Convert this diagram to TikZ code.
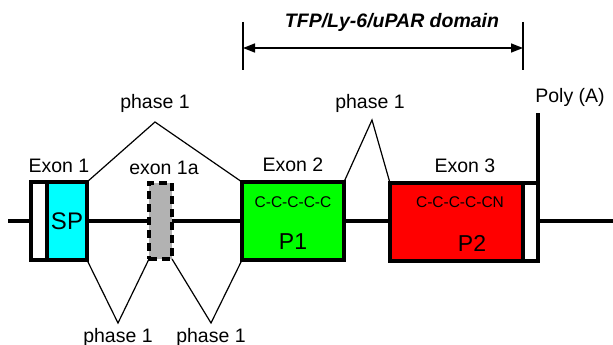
\documentclass[tikz,border=0pt]{standalone}
\usepackage{fontspec}
\setmainfont{Liberation Sans}
\usetikzlibrary{arrows.meta}
\definecolor{spcyan}{RGB}{0,255,255}
\definecolor{pgreen}{RGB}{0,255,0}
\definecolor{pred}{RGB}{255,0,0}
\definecolor{exgray}{RGB}{178,178,178}

\begin{document}
\begin{tikzpicture}[x=1pt,y=-1pt,
    exon/.style={draw,line width=3.5pt,inner sep=0pt,outer sep=0pt,anchor=north west,minimum height=78pt},
    lbl/.style={font=\fontsize{19.5}{22}\selectfont,inner sep=0pt},
    motif/.style={font=\fontsize{15.5}{18}\selectfont,inner sep=0pt},
    splice/.style={line width=1.2pt,line join=miter}]
  \useasboundingbox (0,0) rectangle (613,345);
  % gene backbone
  \coordinate (bl) at (8,221);
  \coordinate (br) at (613,221);
  \draw[line width=4pt] (bl) -- (br);
  % exons
  \node[exon,fill=white,minimum width=16pt] (utr5) at (31,182) {};
  \node[exon,fill=spcyan,minimum width=40pt] (sp) at (47,182) {};
  \node[lbl,font=\fontsize{24}{26}\selectfont] at (sp.center) {SP};
  \node[exon,fill=exgray,dash pattern=on 8pt off 5pt,minimum width=23pt,minimum height=76pt] (ex1a) at (149,183) {};
  \node[exon,fill=pgreen,minimum width=102pt] (ex2) at (242,182) {};
  \node[motif] at (293,202) {C-C-C-C-C};
  \node[lbl,font=\fontsize{23}{26}\selectfont] at (293,242) {P1};
  \node[exon,fill=pred,minimum width=133pt] (ex3) at (390,183) {};
  \node[exon,fill=white,minimum width=15pt] (utr3) at (523,183) {};
  \node[motif] at (460,202) {C-C-C-C-CN};
  \node[lbl,font=\fontsize{23}{26}\selectfont] at (472,243) {P2};
  % exon labels
  \node[lbl] at (59,166) {Exon 1};
  \node[lbl] at (164,168) {exon 1a};
  \node[lbl] at (293,165) {Exon 2};
  \node[lbl] at (465,166) {Exon 3};
  % poly(A)
  \coordinate (pa) at (538,113);
  \draw[line width=3.5pt] (pa) -- (pa |- utr3.north);
  \node[lbl] at (570,97) {Poly (A)};
  % splicing
  \coordinate (s1) at (155,122);
  \coordinate (s2) at (372,120);
  \coordinate (s3) at (118,323);
  \coordinate (s4) at (211,323);
  \draw[splice] (sp.north east) -- (s1) -- (ex2.north west);
  \draw[splice] (ex2.north east) -- (s2) -- (ex3.north west);
  \draw[splice] (sp.south east) -- (s3) -- (ex1a.south west);
  \draw[splice] (ex1a.south east) -- (s4) -- (ex2.south west);
  \node[lbl] at (155,103) {phase 1};
  \node[lbl] at (370,103) {phase 1};
  \node[lbl] at (118,337) {phase 1};
  \node[lbl] at (211,337) {phase 1};
  % domain
  \coordinate (dlt) at (243,22); \coordinate (dlb) at (243,70);
  \coordinate (drt) at (523,22); \coordinate (drb) at (523,70);
  \coordinate (dl) at (243,48); \coordinate (dr) at (523,48);
  \draw[line width=1.2pt] (dlt) -- (dlb);
  \draw[line width=1.2pt] (drt) -- (drb);
  \draw[line width=1.5pt,{Triangle[length=12pt,width=9pt]}-{Triangle[length=12pt,width=9pt]}] (dl) -- (dr);
  \node[lbl,font=\fontsize{19.5}{22}\selectfont\bfseries\itshape,fill=white,inner xsep=2pt] at (392,22) {TFP/Ly-6/uPAR domain};
\end{tikzpicture}
\end{document}
